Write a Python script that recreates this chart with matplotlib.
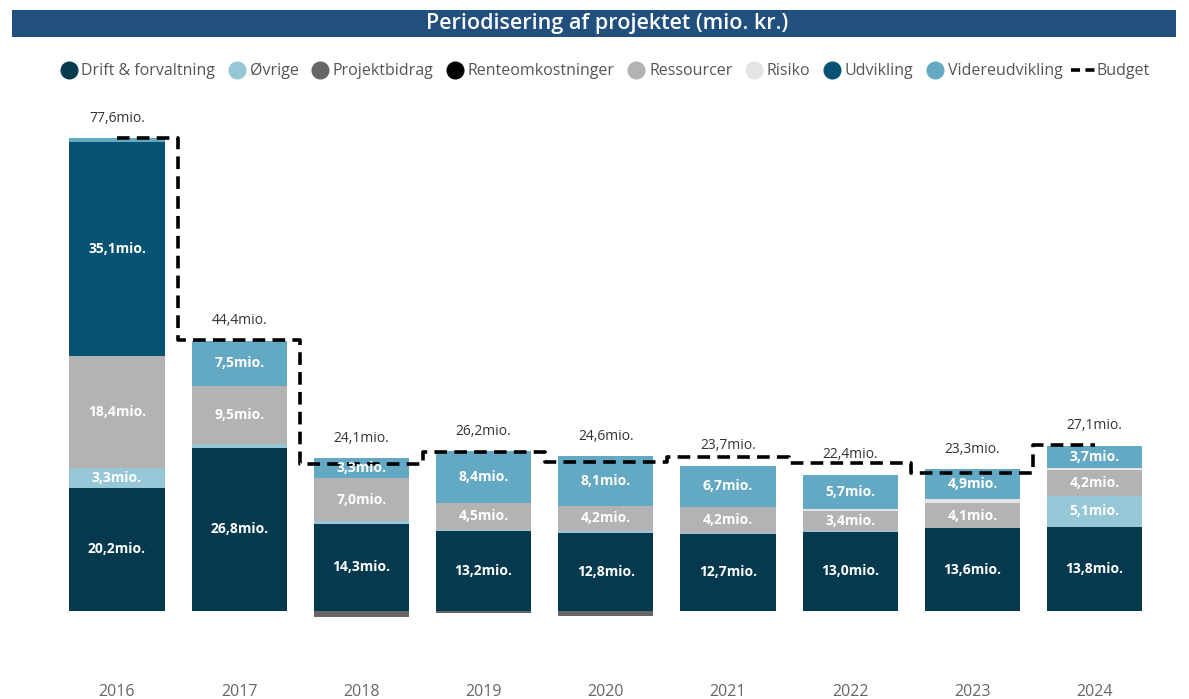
import matplotlib
matplotlib.use("Agg")
import matplotlib.pyplot as plt
from matplotlib.lines import Line2D
from matplotlib.patches import Rectangle
import numpy as np

plt.rcParams['font.family'] = ['Open Sans', 'DejaVu Sans']

years = ['2016', '2017', '2018', '2019', '2020', '2021', '2022', '2023', '2024']
series_names = ['Drift & forvaltning', 'Øvrige', 'Projektbidrag', 'Renteomkostninger',
                'Ressourcer', 'Risiko', 'Udvikling', 'Videreudvikling']
drift = [20.2, 26.8, 14.3, 13.2, 12.8, 12.7, 13.0, 13.6, 13.8]
ovrige = [3.3, 0.6, 0.5, 0.1, 0.3, 0.1, 0.1, 0.0, 5.1]
projektbidrag = [0.0, 0.0, -1.0, -0.3, -0.8, 0.0, 0.0, 0.0, 0.0]
renteomk = [0.0, 0.0, 0.0, 0.0, 0.0, 0.0, 0.0, 0.0, 0.0]
ressourcer = [18.4, 9.5, 7.0, 4.5, 4.2, 4.2, 3.4, 4.1, 4.2]
risiko = [0.0, 0.0, 0.0, 0.0, 0.0, 0.1, 0.2, 0.7, 0.3]
udvikling = [35.1, 0.0, 0.0, 0.0, 0.0, 0.0, 0.0, 0.0, 0.0]
videreudv = [0.6, 7.5, 3.3, 8.4, 8.1, 6.7, 5.7, 4.9, 3.7]
totals = [77.6, 44.4, 24.1, 26.2, 24.6, 23.7, 22.4, 23.3, 27.1]
budget = [77.6, 44.5, 24.1, 26.1, 24.5, 25.3, 24.3, 22.7, 27.3]

colors = ['#053A4E', '#96C7D7', '#666666', '#000000', '#B3B3B3', '#E4E4E4', '#065272', '#64A9C3']
data = [drift, ovrige, projektbidrag, renteomk, ressourcer, risiko, udvikling, videreudv]

W, H = 1189, 699
fig = plt.figure(figsize=(W/100, H/100), dpi=100)

ax_left_px, ax_right_px = 0, W
ax_top_px, ax_bot_px = 100, 672
ax = fig.add_axes([ax_left_px/W, 1-ax_bot_px/H, (ax_right_px-ax_left_px)/W, (ax_bot_px-ax_top_px)/H])

pxu_x = 122.2
x0_px = 117
ax.set_xlim(-x0_px/pxu_x, (W-x0_px)/pxu_x)
pxu_y = 6.09
base_px = 611
ax.set_ylim(-(ax_bot_px-base_px)/pxu_y, (base_px-ax_top_px)/pxu_y)

x = np.arange(len(years))
bw = 0.78
pos_bottom = np.zeros(len(years))
neg_bottom = np.zeros(len(years))
for name, vals, col in zip(series_names, data, colors):
    vals = np.array(vals, dtype=float)
    bottoms = np.where(vals >= 0, pos_bottom, neg_bottom)
    ax.bar(x, vals, bw, bottom=bottoms, color=col, edgecolor='none', zorder=2)
    for i, v in enumerate(vals):
        if v >= 3.0:
            ax.text(x[i], bottoms[i] + v/2, f"{v:.1f}".replace('.', ',') + "mio.",
                    ha='center', va='center', color='white', fontsize=10,
                    fontweight='bold', zorder=4)
    pos_bottom = np.where(vals >= 0, pos_bottom + vals, pos_bottom)
    neg_bottom = np.where(vals < 0, neg_bottom + vals, neg_bottom)

for i, t in enumerate(totals):
    ax.text(x[i], pos_bottom[i] + 3.3, f"{t:.1f}".replace('.', ',') + "mio.",
            ha='center', va='center', color='#333333', fontsize=10, zorder=5)

ax.plot(x, budget, drawstyle='steps-mid', color='black', linestyle=(0, (3.5, 2)),
        linewidth=2.6, zorder=3)

ax.set_xticks(x)
ax.set_xticklabels(years, color='#666666', fontsize=11.5)
ax.tick_params(axis='x', length=0, pad=9)
ax.set_yticks([])
for s in ax.spines.values():
    s.set_visible(False)
ax.patch.set_alpha(0)

# title bar
fig.patches.append(Rectangle((12/W, 1-37/H), (1176-12)/W, 27/H, transform=fig.transFigure,
                             facecolor='#22507E', edgecolor='none', zorder=0))
fig.text(607/W, 1-24/H, 'Periodisering af projektet (mio. kr.)', color='white',
         fontsize=15.5, fontweight='semibold', ha='center', va='center')

handles = [Line2D([], [], marker='o', linestyle='none', markersize=12,
                  markerfacecolor=c, markeredgecolor=c) for c in colors]
handles.append(Line2D([], [], color='black', linestyle=(0, (2.5, 1.5)), linewidth=2.6))
labels = series_names + ['Budget']
leg = fig.legend(handles, labels, loc='center', bbox_to_anchor=(603/W, 1-71/H), ncol=9,
                 frameon=False, fontsize=11.5, handletextpad=0.0, columnspacing=0.55,
                 handlelength=1.6, labelcolor='#555555')

fig.savefig('out.png', dpi=100)
